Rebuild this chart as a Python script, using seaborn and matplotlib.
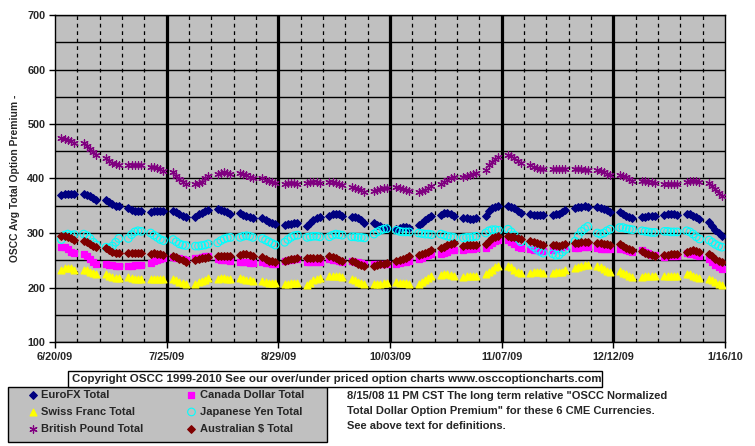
import pandas as pd
import seaborn as sns
import matplotlib.pyplot as plt
from matplotlib.patches import Rectangle

sns.set_style("white")
plt.rcParams['font.family'] = ['Liberation Sans', 'DejaVu Sans']
plt.rcParams['font.weight'] = 'bold'

# daily values, one row per week (Mon..Fri), starting 6/22/09
eurofx = [
    370, 372, 372, 371, 371,  371, 370, 367, 364, 361,  360, 357, 353, 350, 349,
    345, 343, 341, 340, 341,  339, 340, 340, 340, 340,  341, 338, 334, 331, 329,
    330, 334, 337, 340, 343,  344, 342, 340, 338, 335,  336, 333, 331, 329, 327,
    327, 324, 321, 318, 316,  315, 316, 317, 318, 318,  313, 318, 323, 327, 330,
    331, 334, 335, 334, 331,  330, 329, 327, 323, 318,  318, 315, 312, 310, 310,
    308, 310, 311, 311, 310,  314, 318, 323, 328, 332,  333, 336, 336, 334, 331,
    328, 327, 326, 326, 327,  332, 340, 346, 348, 349,  349, 348, 345, 340, 336,
    334, 333, 333, 333, 333,  333, 334, 335, 338, 343,  346, 347, 348, 349, 348,
    347, 346, 344, 342, 338,  338, 335, 332, 329, 327,  329, 330, 331, 332, 332,
    333, 334, 334, 334, 333,  335, 334, 332, 329, 326,  320, 313, 306, 300, 295,
]
canada = [
    275, 274, 271, 266, 264,  262, 258, 252, 247, 244,  244, 242, 241, 240, 240,
    240, 240, 241, 242, 242,  245, 248, 251, 253, 254,  256, 255, 254, 252, 251,
    254, 255, 256, 257, 257,  252, 251, 250, 250, 249,  247, 247, 246, 245, 245,
    246, 245, 245, 244, 244,  249, 250, 251, 252, 252,  246, 246, 247, 247, 247,
    252, 251, 250, 248, 247,  248, 247, 246, 245, 244,  243, 243, 243, 243, 243,
    244, 245, 246, 247, 248,  253, 255, 257, 259, 261,  262, 264, 266, 268, 269,
    269, 270, 270, 271, 272,  273, 278, 282, 285, 287,  287, 284, 279, 275, 272,
    270, 269, 268, 267, 267,  268, 270, 272, 274, 276,  272, 273, 274, 274, 274,
    272, 271, 270, 270, 270,  271, 270, 268, 267, 266,  268, 266, 263, 260, 259,
    256, 257, 258, 258, 258,  263, 262, 261, 259, 258,  252, 247, 242, 237, 234,
]
swiss = [
    232, 236, 235, 235, 233,  233, 232, 228, 226, 224,  224, 222, 220, 218, 218,
    219, 217, 216, 215, 215,  215, 216, 216, 216, 215,  216, 214, 211, 208, 206,
    207, 210, 212, 214, 217,  216, 217, 217, 216, 215,  217, 216, 214, 213, 212,
    212, 210, 209, 208, 208,  206, 207, 208, 209, 209,  205, 209, 213, 216, 218,
    221, 222, 222, 221, 220,  216, 214, 211, 209, 207,  207, 207, 207, 208, 208,
    210, 209, 209, 208, 206,  206, 210, 214, 218, 221,  223, 224, 224, 223, 222,
    220, 221, 222, 222, 222,  224, 229, 233, 237, 240,  240, 237, 233, 229, 226,
    227, 228, 228, 228, 227,  227, 228, 228, 229, 232,  235, 238, 240, 241, 241,
    240, 237, 234, 231, 228,  231, 227, 224, 221, 219,  220, 221, 222, 222, 221,
    221, 222, 222, 222, 222,  225, 224, 222, 220, 217,  216, 213, 210, 207, 205,
]
yen = [
    288, 296, 298, 296, 297,  298, 295, 290, 283, 278,  274, 272, 276, 283, 290,
    290, 297, 302, 304, 303,  300, 296, 292, 288, 286,  288, 284, 280, 278, 277,
    276, 276, 277, 278, 280,  282, 286, 289, 291, 292,  292, 294, 295, 294, 292,
    290, 287, 284, 281, 278,  283, 288, 292, 295, 296,  292, 293, 294, 294, 293,
    293, 296, 298, 297, 296,  293, 293, 292, 292, 291,  298, 302, 305, 307, 308,
    305, 303, 302, 302, 302,  300, 299, 298, 298, 297,  298, 296, 294, 293, 292,
    291, 292, 292, 293, 294,  300, 304, 306, 306, 305,  307, 302, 296, 290, 284,
    280, 275, 270, 266, 263,  262, 259, 260, 265, 270,  285, 295, 303, 308, 312,
    300, 298, 300, 304, 307,  310, 310, 308, 307, 306,  304, 303, 302, 301, 301,
    303, 303, 302, 302, 302,  304, 302, 298, 293, 289,  287, 283, 279, 276, 274,
]
pound = [
    475, 473, 471, 468, 465,  465, 460, 455, 448, 443,  437, 433, 429, 426, 424,
    424, 424, 425, 424, 424,  422, 421, 420, 417, 414,  412, 405, 399, 393, 389,
    390, 391, 394, 400, 404,  409, 411, 412, 411, 409,  411, 409, 406, 403, 401,
    400, 398, 396, 393, 391,  390, 391, 391, 391, 390,  392, 393, 393, 393, 392,
    394, 394, 392, 390, 388,  385, 383, 380, 378, 376,  377, 378, 380, 382, 382,
    384, 382, 380, 378, 377,  375, 377, 379, 382, 386,  390, 393, 397, 400, 403,
    403, 405, 407, 409, 411,  416, 424, 430, 436, 440,  443, 442, 437, 432, 428,
    425, 422, 420, 418, 417,  418, 417, 417, 417, 417,  418, 418, 417, 416, 416,
    415, 414, 412, 409, 406,  407, 405, 402, 399, 396,  396, 395, 394, 393, 392,
    390, 390, 390, 390, 390,  393, 395, 395, 395, 394,  392, 387, 381, 374, 367,
]
aussie = [
    294, 294, 292, 290, 288,  286, 283, 280, 277, 274,  272, 268, 266, 264, 264,
    264, 264, 264, 264, 264,  262, 263, 262, 261, 259,  258, 256, 253, 250, 247,
    250, 252, 254, 255, 256,  257, 258, 258, 257, 257,  259, 261, 261, 260, 258,
    256, 252, 249, 248, 247,  248, 250, 252, 253, 254,  254, 255, 255, 255, 254,
    257, 256, 254, 251, 249,  248, 246, 244, 242, 240,  240, 242, 243, 244, 245,
    248, 251, 253, 255, 257,  259, 261, 264, 266, 269,  272, 275, 278, 280, 282,
    277, 278, 278, 278, 278,  280, 285, 290, 293, 295,  295, 293, 292, 290, 289,
    285, 283, 281, 279, 278,  278, 278, 277, 278, 279,  281, 282, 283, 284, 284,
    282, 281, 280, 279, 278,  279, 276, 273, 270, 268,  267, 264, 261, 259, 258,
    260, 260, 261, 261, 261,  265, 267, 268, 267, 265,  262, 258, 253, 249, 246,
]

dates = pd.bdate_range('2009-06-22', '2010-01-15')
major_dates = pd.date_range('2009-06-20', '2010-01-16', freq='35D')
minor_dates = pd.date_range('2009-06-20', '2010-01-16', freq='7D')
tick_labels = ['6/20/09', '7/25/09', '8/29/09', '10/03/09', '11/07/09', '12/12/09', '1/16/10']

# name, values, colour, marker, size
series = [
    ('EuroFX Total', eurofx, '#000080', 'D', 15),
    ('Canada Dollar Total', canada, '#FF00FF', 's', 17),
    ('Swiss Franc Total', swiss, '#FFFF00', '^', 24),
    ('Japanese Yen Total', yen, '#00FFFF', 'o', 30),
    ('British Pound Total', pound, '#800080', (6, 2, 0), 28),
    ('Australian $ Total', aussie, '#800000', 'D', 15),
]

df = pd.concat([pd.DataFrame({'date': dates, 'value': vals, 'series': name})
                for name, vals, _, _, _ in series], ignore_index=True)

fig = plt.figure(figsize=(7.55, 4.46), dpi=100)
ax = fig.add_axes([55/755, 104/446, 670/755, 327/446])
ax.set_facecolor('#C0C0C0')

for name, _, col, mk, sz in series:
    sub = df[df.series == name]
    if name == 'Japanese Yen Total':
        sns.scatterplot(data=sub, x='date', y='value', ax=ax, marker=mk, s=sz,
                        facecolors='none', edgecolor=col, linewidth=0.8,
                        label=name, legend=False, zorder=3)
    else:
        sns.scatterplot(data=sub, x='date', y='value', ax=ax, marker=mk, s=sz,
                        color=col, edgecolor=col, linewidth=0.9,
                        label=name, legend=False, zorder=3)

# axes and grid
ax.set_xlim(major_dates[0], major_dates[-1])
ax.set_ylim(100, 700)
ax.set_yticks(range(100, 701, 100))
ax.set_yticks(range(100, 701, 50), minor=True)
ax.set_xticks(major_dates)
ax.set_xticklabels(tick_labels)
ax.set_xticks(minor_dates, minor=True)
ax.set_axisbelow(True)
ax.grid(axis='y', which='both', color='black', lw=1)
ax.grid(axis='x', which='minor', color='black', lw=0.9, ls=(0, (3, 3)))
for d in major_dates[1:-1]:
    ax.axvline(d, color='black', lw=2.3, zorder=1)
for sp in ax.spines.values():
    sp.set_color('black')
    sp.set_linewidth(1)
ax.tick_params(axis='both', which='major', bottom=True, left=True, length=4,
               width=1, color='black', labelsize=7.8, pad=3)
ax.tick_params(axis='both', which='minor', length=0)
ax.set_xlabel('')
ax.set_ylabel('OSCC Avg Total Option Premium -', fontsize=7.4, fontweight='bold', labelpad=5)

# legend box
fig.add_artist(Rectangle((8/755, 1 - 442/446), 319/755, 55/446, transform=fig.transFigure,
                         facecolor='#C0C0C0', edgecolor='black', lw=1))
handles, labels = ax.get_legend_handles_labels()
order = [0, 2, 4, 1, 3, 5]
fig.legend([handles[i] for i in order], [labels[i] for i in order], ncol=2,
           loc='upper left', bbox_to_anchor=(27/755, 1 - 390/446), frameon=False,
           fontsize=8, borderpad=0, borderaxespad=0, handlelength=1.0,
           handletextpad=0.3, columnspacing=3.8, labelspacing=0.62)

# copyright and notes
fig.add_artist(Rectangle((68/755, 1 - 387/446), 534/755, 16/446, transform=fig.transFigure,
                         facecolor='white', edgecolor='black', lw=1))
fig.text(72/755, 1 - 379/446,
         'Copyright OSCC 1999-2010 See our over/under priced option charts www.osccoptioncharts.com',
         fontsize=8.25, va='center', ha='left')
notes = ['8/15/08 11 PM CST The long term relative "OSCC Normalized',
         'Total Dollar Option Premium" for these 6 CME Currencies.',
         'See above text for definitions.']
for i, line in enumerate(notes):
    fig.text(347/755, 1 - (396 + 15*i)/446, line, fontsize=8, va='center', ha='left')

fig.savefig('out.png', dpi=100)
